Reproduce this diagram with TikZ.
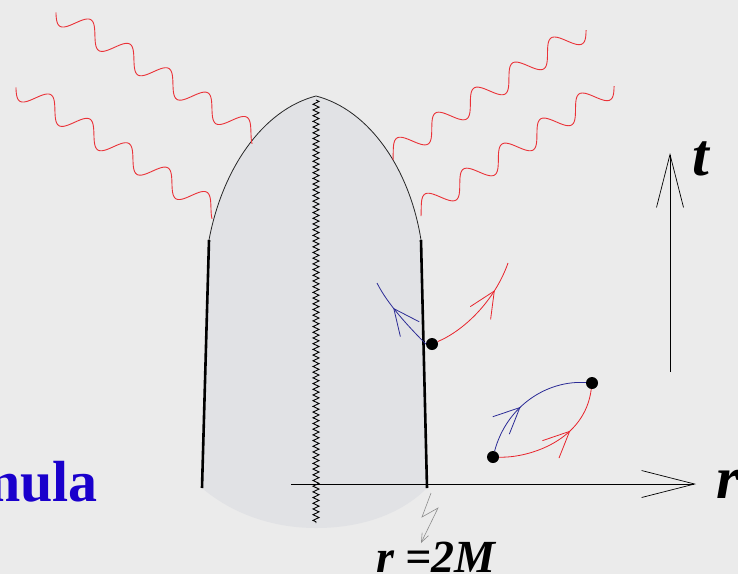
\documentclass[tikz,border=0pt]{standalone}
\usepackage{fontspec}
\setmainfont{Liberation Serif}
\usetikzlibrary{arrows.meta,decorations.pathmorphing,decorations.markings}

\definecolor{bgcol}{RGB}{235,235,235}
\definecolor{holecol}{RGB}{225,226,229}
\definecolor{wavered}{RGB}{234,50,56}
\definecolor{pathblue}{RGB}{44,44,150}
\definecolor{pathred}{RGB}{232,36,44}
\definecolor{titleblue}{RGB}{26,0,204}
\definecolor{boltgray}{RGB}{140,140,140}

\begin{document}
\begin{tikzpicture}[
  x=1pt,
  y=1pt,
  wall/.style={line width=2.6pt},
  rim/.style={line width=0.8pt, black!85},
  photon/.style={draw=wavered, line width=0.9pt},
  dot/.style={circle, fill=black, minimum size=12pt, inner sep=0pt},
  axisline/.style={line width=0.7pt, -{Straight Barb[length=53pt, width=27pt]}},
  midarrow/.style={postaction={decorate}, decoration={markings, mark=at position #1 with {\arrow{Straight Barb[length=26pt, width=24pt]}}}},
  bolt/.style={draw=boltgray, line width=0.6pt, -{Straight Barb[length=9pt, width=7pt]}},
  lab/.style={font=\bfseries\itshape, inner sep=0pt},
]

% Canvas.
\fill[bgcol] (0,0) rectangle (738,-574);
\useasboundingbox (0,0) rectangle (738,-574);

% Geometry.
\def\wavelen{46}
\def\waveamp{11}
\newcommand{\photon}[5]{%
  \draw[photon, shift={(#1,#2)}, rotate=#3] plot[domain=#4:#5, samples=160, smooth, variable=\p] ({\p*\wavelen}, {-\waveamp*sin(\p*360)});
}

\coordinate (lwTop) at (209,-240);
\coordinate (lwBot) at (202,-488);
\coordinate (rwTop) at (421,-240);
\coordinate (rwBot) at (427,-488);
\coordinate (apex) at (316,-96);

% Collapsing star.
\fill[holecol] (lwTop) .. controls (222,-170) and (262,-110) .. (apex)
  .. controls (370,-110) and (410,-170) .. (rwTop) -- (rwBot)
  .. controls (400,-515) and (360,-528) .. (316,-528)
  .. controls (270,-528) and (230,-512) .. (lwBot) -- cycle;
\draw[rim] (lwTop) .. controls (222,-170) and (262,-110) .. (apex)
  .. controls (370,-110) and (410,-170) .. (rwTop);
\draw[wall] (lwTop) -- (lwBot);
\draw[wall] (rwTop) -- (rwBot);

% Singularity.
\draw[line width=0.9pt, decorate, decoration={zigzag, segment length=5.7pt, amplitude=3pt}] (316,-100) -- (316,-523);

% Outgoing radiation.
\photon{55.9}{-10.8}{-32}{0.02}{5.15}
\photon{15.9}{-85.8}{-32}{0.02}{5.15}
\photon{373.9}{-166.1}{33}{0.42}{5.48}
\photon{401.9}{-222.1}{33}{0.42}{5.48}

% Axes.
\coordinate (rAxisFrom) at (291,-484);
\coordinate (rAxisTo) at (696,-484);
\coordinate (tAxisFrom) at (670,-372);
\coordinate (tAxisTo) at (670,-153);
\draw[axisline] (rAxisFrom) -- (rAxisTo);
\draw[axisline] (tAxisFrom) -- (tAxisTo);

\node[lab, font=\fontsize{60}{60}\selectfont\bfseries\itshape, anchor=base] (tLab) at (701,-175) {t};
\node[lab, font=\fontsize{60}{60}\selectfont\bfseries\itshape, anchor=base west] (rLab) at (716,-498) {r};
\node[lab, font=\fontsize{46}{46}\selectfont\bfseries\itshape, anchor=base] (horizonLab) at (436,-572) {r =2M};
\node[font=\fontsize{58}{58}\selectfont\bfseries, text=titleblue, inner sep=0pt, anchor=base east] (titleLab) at (98,-501) {mula};

% Horizon pointer.
\coordinate (boltFrom) at (431,-493);
\coordinate (boltTo) at (421,-543);
\draw[bolt] (boltFrom) -- (422,-517) -- (438,-508) -- (boltTo);

% Events and light paths.
\node[dot] (evA) at (432,-344) {};
\node[dot] (evB) at (493,-457) {};
\node[dot] (evC) at (592,-383) {};
\coordinate (inEnd) at (377,-283);
\coordinate (outEnd) at (508,-263);

\draw[pathblue, line width=0.8pt, midarrow=0.62] (evA.west) .. controls (410,-328) and (388,-305) .. (inEnd);
\draw[pathred, line width=0.8pt, midarrow=0.72] (evA) .. controls (465,-330) and (495,-300) .. (outEnd);
\draw[pathblue, line width=0.8pt, midarrow=0.42] (evB) .. controls (507,-405) and (548,-380) .. (evC);
\draw[pathred, line width=0.8pt, midarrow=0.62] (evB) .. controls (530,-458) and (585,-440) .. (evC);

\end{tikzpicture}
\end{document}
